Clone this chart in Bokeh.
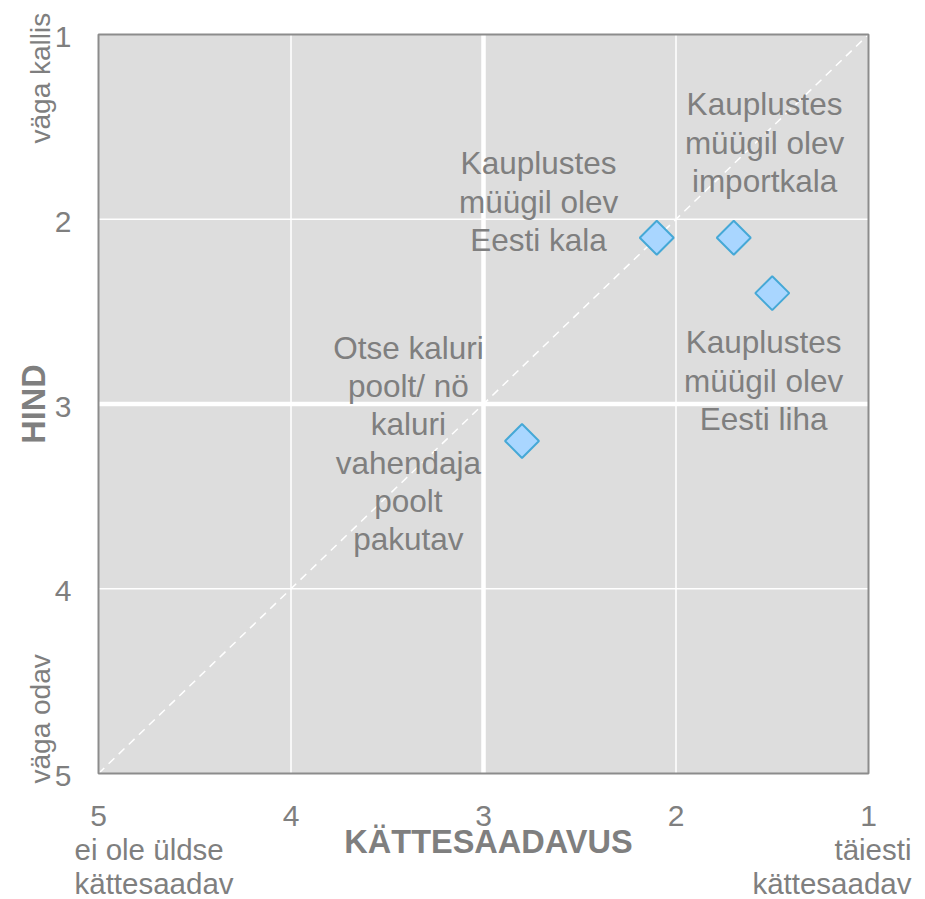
from math import pi
from bokeh.plotting import figure
from bokeh.models import Range1d, ColumnDataSource
from bokeh.embed import file_html
from bokeh.resources import INLINE
from bokeh.core.properties import value

# ---- data ----
series_names = [
    "Kauplustes\nmüügil olev\nEesti kala",
    "Kauplustes\nmüügil olev\nimportkala",
    "Kauplustes\nmüügil olev\nEesti liha",
    "Otse kaluri\npoolt/ nö\nkaluri\nvahendaja\npoolt\npakutav",
]
availability = [2.1, 1.7, 1.5, 2.8]   # KÄTTESAADAVUS (x)
price = [2.1, 2.1, 2.4, 3.2]          # HIND (y)
tick_values = [1, 2, 3, 4, 5]
tick_labels = ["1", "2", "3", "4", "5"]
x_title = "KÄTTESAADAVUS"
y_title = "HIND"
x_end_labels = ["ei ole üldse", "kättesaadav", "täiesti", "kättesaadav"]
y_end_labels = ["väga kallis", "väga odav"]

# label placement (data coords, centre of text block)
label_x = [2.714, 1.54, 1.545, 3.39]
label_y = [1.904, 1.585, 2.873, 3.214]

# ---- layout (pixels) ----
W, H = 920, 899
FL, FT, FW, FH = 98, 34, 770, 739
lo, hi = max(tick_values), min(tick_values)
sx = FW / (lo - hi)
sy = FH / (lo - hi)

def X(px):
    return lo - (px - FL) / sx

def Y(py):
    return hi + (py - FT) / sy

GRAY = "#7F7F7F"
FONT = value("Liberation Sans")

p = figure(width=W, height=H, output_backend="svg", toolbar_location=None,
           x_range=Range1d(X(0), X(W)), y_range=Range1d(Y(H), Y(0)),
           min_border=0, x_axis_location=None, y_axis_location=None)
p.grid.visible = False
p.outline_line_color = None
p.background_fill_color = "white"
p.border_fill_color = "white"

# plot area
p.quad(left=[lo], right=[hi], bottom=[lo], top=[hi], fill_color="#DDDDDD", line_color=None)

# grid lines
thin = [t for t in tick_values if t not in (lo, hi, 3)]
p.segment(x0=thin, x1=thin, y0=[lo] * len(thin), y1=[hi] * len(thin), line_color="white", line_width=1.5)
p.segment(x0=[lo] * len(thin), x1=[hi] * len(thin), y0=thin, y1=thin, line_color="white", line_width=1.5)
p.segment(x0=[3], x1=[3], y0=[lo], y1=[hi], line_color="white", line_width=4.5)
p.segment(x0=[lo], x1=[hi], y0=[3], y1=[3], line_color="white", line_width=4.5)

# diagonal reference line
p.line([lo, hi], [lo, hi], line_color="white", line_width=1.5, line_dash="8 6")

# plot area border
p.quad(left=[lo], right=[hi], bottom=[lo], top=[hi], fill_color=None,
       line_color="#8C8C8C", line_width=2)

src = ColumnDataSource(dict(x=availability, y=price))
p.scatter("x", "y", source=src, marker="square", angle=pi / 4, size=24,
          fill_color="#A9D6FF", line_color="#45A8D6", line_width=2)

lsrc = ColumnDataSource(dict(x=label_x, y=label_y, t=series_names))
p.text("x", "y", text="t", source=lsrc, text_align="center", text_baseline="middle",
       text_font=FONT, text_font_size="31.5px", text_color=GRAY, text_line_height=1.06)

# tick labels
p.text(x=tick_values, y=[Y(815)] * 5, text=tick_labels, text_align="center",
       text_baseline="middle", text_font=FONT, text_font_size="30px", text_color=GRAY)
p.text(x=[X(71)] * 5, y=tick_values, text=tick_labels, text_align="right",
       text_baseline="middle", y_offset=2.5, text_font=FONT, text_font_size="30px",
       text_color=GRAY)

# axis titles
p.text(x=[X(488)], y=[Y(841)], text=[x_title], text_align="center", text_baseline="middle",
       text_font=FONT, text_font_size="32.5px", text_font_style="bold", text_color=GRAY)
p.text(x=[X(33)], y=[3], text=[y_title], text_align="center", text_baseline="middle",
       angle=pi / 2, text_font=FONT, text_font_size="32.5px", text_font_style="bold", text_color=GRAY)

# end labels
p.text(x=[X(74)] * 2, y=[Y(849), Y(883)], text=x_end_labels[:2], text_align="left",
       text_baseline="middle", text_font=FONT, text_font_size="29.5px", text_color=GRAY)
p.text(x=[X(911)] * 2, y=[Y(849), Y(883)], text=x_end_labels[2:], text_align="right",
       text_baseline="middle", text_font=FONT, text_font_size="29.5px", text_color=GRAY)
p.text(x=[X(40)] * 2, y=[Y(143), Y(783)], text=y_end_labels, text_align="left",
       text_baseline="middle", angle=pi / 2, text_font=FONT, text_font_size="28px",
       text_color=GRAY)

open("out.html", "w").write(file_html(p, INLINE))
